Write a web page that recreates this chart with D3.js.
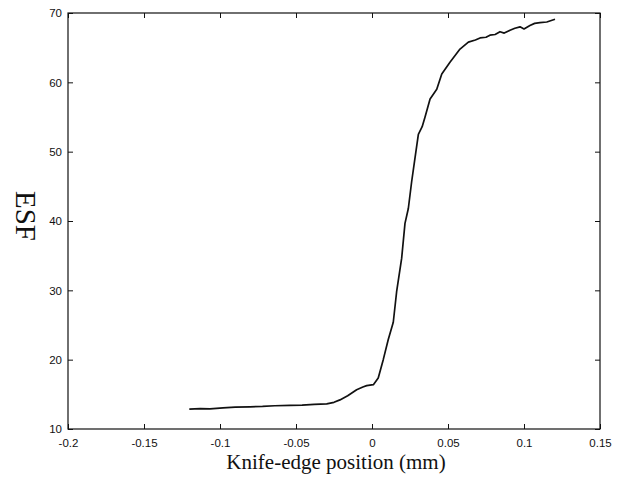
<!DOCTYPE html>
<html>
<head>
<meta charset="utf-8">
<script src="https://cdn.jsdelivr.net/npm/d3@7"></script>
<style>
  html, body { margin: 0; padding: 0; background: #fff; }
  svg { display: block; }
  .tick text { font-family: "Liberation Sans", Arial, sans-serif; font-size: 11.5px; fill: #111; }
</style>
</head>
<body>
<svg id="chart" width="625" height="491"></svg>
<script>
// Edge spread function measured across the knife edge
const positionMm = [
  -0.1202, -0.1130, -0.1066, -0.0980, -0.0900, -0.0803, -0.0720, -0.0640, -0.0539, -0.0460,
  -0.0380, -0.0298, -0.0250, -0.0211, -0.0160, -0.0101, -0.0060, -0.0035, 0.0009, 0.0041,
  0.0074, 0.0107, 0.0140, 0.0162, 0.0195, 0.0217, 0.0239, 0.0261, 0.0283, 0.0305,
  0.0330, 0.0349, 0.0382, 0.0426, 0.0459, 0.0513, 0.0579, 0.0634, 0.0680, 0.0711,
  0.0750, 0.0776, 0.0810, 0.0842, 0.0870, 0.0908, 0.0940, 0.0974, 0.1000, 0.1039,
  0.1070, 0.1105, 0.1150, 0.1204
];
const esfValues = [
  12.86, 12.95, 12.90, 13.05, 13.15, 13.20, 13.25, 13.35, 13.40, 13.45,
  13.55, 13.63, 13.85, 14.20, 14.80, 15.67, 16.05, 16.25, 16.40, 17.37,
  20.00, 22.90, 25.40, 29.80, 34.60, 39.65, 41.80, 45.70, 49.10, 52.50,
  53.60, 55.00, 57.60, 59.00, 61.20, 62.90, 64.80, 65.80, 66.10, 66.40,
  66.50, 66.80, 66.90, 67.30, 67.10, 67.50, 67.80, 68.00, 67.70, 68.20,
  68.50, 68.60, 68.70, 69.10
];

const xTicks = [-0.2, -0.15, -0.1, -0.05, 0, 0.05, 0.1, 0.15];
const xTickLabels = ["-0.2", "-0.15", "-0.1", "-0.05", "0", "0.05", "0.1", "0.15"];
const yTicks = [10, 20, 30, 40, 50, 60, 70];
const yTickLabels = ["10", "20", "30", "40", "50", "60", "70"];

const xTitle = "Knife-edge position (mm)";
const yTitle = "ESF";

const svg = d3.select("#chart");
const plot = { left: 68, right: 600, top: 13, bottom: 429 };

const x = d3.scaleLinear().domain([-0.2, 0.15]).range([plot.left, plot.right]);
const y = d3.scaleLinear().domain([10, 70]).range([plot.bottom, plot.top]);

// Inward ticks on all four sides of the frame
const tickLen = 5;
function styleAxis(g) {
  g.select(".domain").remove();
  g.selectAll(".tick line").attr("stroke", "#111").attr("stroke-width", 1);
}

svg.append("g")
  .attr("transform", `translate(0,${plot.bottom})`)
  .call(d3.axisBottom(x).tickValues(xTicks).tickSize(-tickLen).tickPadding(10)
    .tickFormat((d, i) => xTickLabels[i]))
  .call(styleAxis);

svg.append("g")
  .attr("transform", `translate(0,${plot.top})`)
  .call(d3.axisTop(x).tickValues(xTicks).tickSize(-tickLen).tickFormat(""))
  .call(styleAxis);

svg.append("g")
  .attr("transform", `translate(${plot.left},0)`)
  .call(d3.axisLeft(y).tickValues(yTicks).tickSize(-tickLen).tickPadding(6)
    .tickFormat((d, i) => yTickLabels[i]))
  .call(styleAxis);

svg.append("g")
  .attr("transform", `translate(${plot.right},0)`)
  .call(d3.axisRight(y).tickValues(yTicks).tickSize(-tickLen).tickFormat(""))
  .call(styleAxis);

// Frame
svg.append("rect")
  .attr("x", plot.left).attr("y", plot.top)
  .attr("width", plot.right - plot.left).attr("height", plot.bottom - plot.top)
  .attr("fill", "none").attr("stroke", "#111").attr("stroke-width", 1.2);

// ESF curve
const line = d3.line()
  .x((d, i) => x(positionMm[i]))
  .y((d, i) => y(esfValues[i]));

svg.append("path")
  .datum(esfValues)
  .attr("d", line)
  .attr("fill", "none")
  .attr("stroke", "#111")
  .attr("stroke-width", 1.7)
  .attr("stroke-linejoin", "round");

// Axis titles
svg.append("text")
  .attr("x", (plot.left + plot.right) / 2 + 2)
  .attr("y", 469)
  .attr("text-anchor", "middle")
  .attr("font-family", "'Liberation Serif', 'Times New Roman', serif")
  .attr("font-size", 21)
  .attr("fill", "#111")
  .text(xTitle);

svg.append("text")
  .attr("transform", "translate(16,216) rotate(90)")
  .attr("text-anchor", "middle")
  .attr("font-family", "'Liberation Serif', 'Times New Roman', serif")
  .attr("font-size", 29)
  .attr("fill", "#111")
  .text(yTitle);
</script>
</body>
</html>
